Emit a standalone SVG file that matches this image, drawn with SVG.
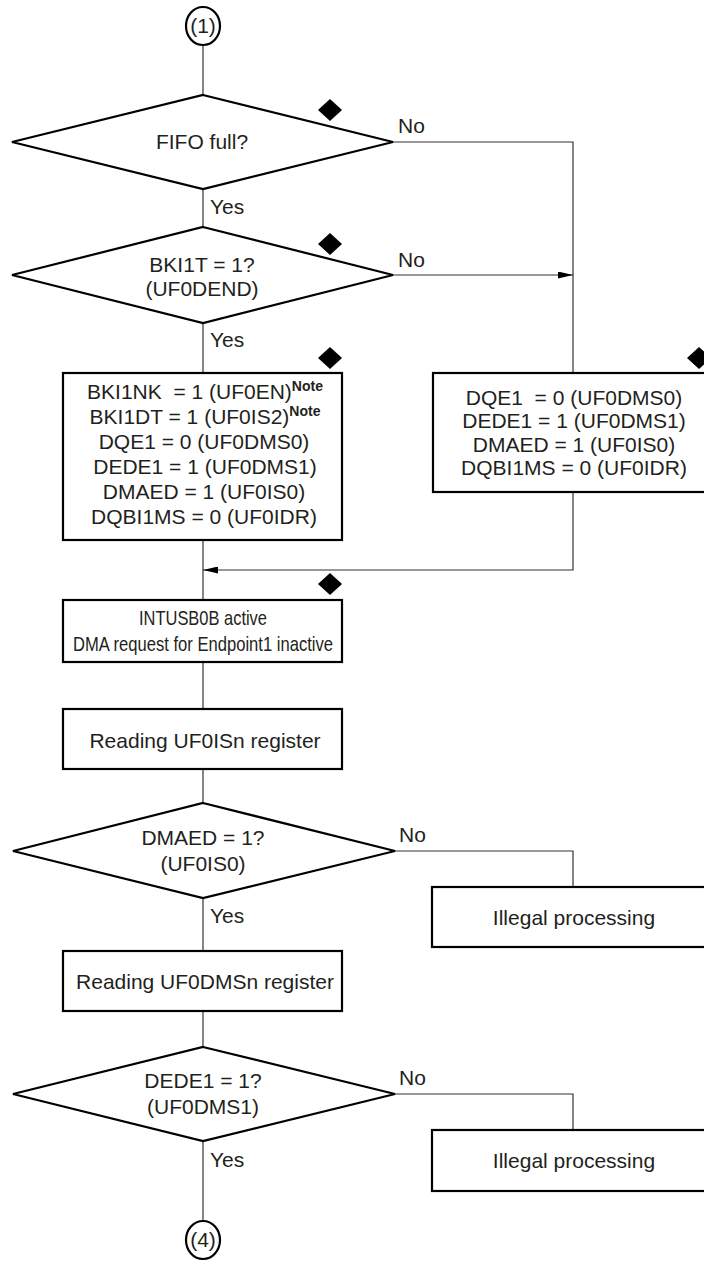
<svg xmlns="http://www.w3.org/2000/svg" width="704" height="1261" viewBox="0 0 704 1261">
<style>
text{font-family:"Liberation Sans",Arial,Helvetica,sans-serif;font-size:21px;fill:#231f20;white-space:pre}
.c{text-anchor:middle}
.sh{fill:#fff;stroke:#000;stroke-width:2.2}
.ln{fill:none;stroke:#333;stroke-width:1.2}
.mk{fill:#000}
.note{font-size:14px;font-weight:bold}
</style>
<defs>
<marker id="ah" viewBox="0 0 15 7" refX="15" refY="3.5" markerWidth="15" markerHeight="7" markerUnits="userSpaceOnUse" orient="auto">
<path d="M0,0 L15,3.5 L0,7 Z" fill="#000"/>
</marker>
</defs>
<g id="connectors">
<path class="ln" d="M203,45 V95"/>
<path class="ln" d="M203,189 V227"/>
<path class="ln" d="M393,142 H573 V373"/>
<path class="ln" d="M393,275 H573" marker-end="url(#ah)"/>
<path class="ln" d="M203,323 V373"/>
<path class="ln" d="M203,540 V600"/>
<path class="ln" d="M573,492 V570 H203" marker-end="url(#ah)"/>
<path class="ln" d="M203,662 V709"/>
<path class="ln" d="M203,769 V803"/>
<path class="ln" d="M203,898 V951"/>
<path class="ln" d="M395,851 H573 V887"/>
<path class="ln" d="M203,1011 V1047"/>
<path class="ln" d="M395,1094 H573 V1130"/>
<path class="ln" d="M203,1141 V1221"/>
<text x="210" y="214">Yes</text>
<text x="398" y="133">No</text>
<text x="398" y="267">No</text>
<text x="210" y="347">Yes</text>
<text x="399" y="842">No</text>
<text x="210" y="923">Yes</text>
<text x="399" y="1085">No</text>
<text x="210" y="1167">Yes</text>
</g>
<g id="start1">
<ellipse class="sh" cx="203" cy="26" rx="17" ry="19"/>
<text class="c" x="203" y="33">(1)</text>
</g>
<g id="fifo">
<path class="sh" d="M203,95 L393,142 L203,189 L12,142 Z"/>
<text class="c" x="202" y="149">FIFO full?</text>
<path class="mk" d="M330,99 L342,110 L330,121 L318,110 Z"/>
</g>
<g id="bki1t">
<path class="sh" d="M203,227 L393,275 L203,323 L12,275 Z"/>
<text class="c" x="202" y="272">BKI1T = 1?</text>
<text class="c" x="202" y="296">(UF0DEND)</text>
<path class="mk" d="M330,233 L342,244 L330,255 L318,244 Z"/>
</g>
<g id="setLeft">
<rect class="sh" x="63" y="373" width="279" height="167"/>
<text class="c" x="205" y="399">BKI1NK  = 1 (UF0EN)<tspan class="note" dy="-8">Note</tspan></text>
<text class="c" x="205" y="424">BKI1DT = 1 (UF0IS2)<tspan class="note" dy="-8">Note</tspan></text>
<text class="c" x="204" y="449">DQE1 = 0 (UF0DMS0)</text>
<text class="c" x="205" y="474">DEDE1 = 1 (UF0DMS1)</text>
<text class="c" x="204" y="499">DMAED = 1 (UF0IS0)</text>
<text class="c" x="204" y="524">DQBI1MS = 0 (UF0IDR)</text>
<path class="mk" d="M330,347 L342,358 L330,369 L318,358 Z"/>
</g>
<g id="setRight">
<rect class="sh" x="433" y="373" width="280" height="119"/>
<text class="c" x="574" y="405">DQE1  = 0 (UF0DMS0)</text>
<text class="c" x="574" y="428">DEDE1 = 1 (UF0DMS1)</text>
<text class="c" x="574" y="452">DMAED = 1 (UF0IS0)</text>
<text class="c" x="574" y="475">DQBI1MS = 0 (UF0IDR)</text>
<path class="mk" d="M699,347 L711,358 L699,369 L687,358 Z"/>
</g>
<g id="intusb">
<rect class="sh" x="63" y="600" width="279" height="62"/>
<text class="c" x="203" y="625" textLength="128" lengthAdjust="spacingAndGlyphs">INTUSB0B active</text>
<text class="c" x="203" y="651" textLength="260" lengthAdjust="spacingAndGlyphs">DMA request for Endpoint1 inactive</text>
<path class="mk" d="M330,573 L342,584 L330,595 L318,584 Z"/>
</g>
<g id="readIS">
<rect class="sh" x="63" y="709" width="279" height="60"/>
<text class="c" x="205" y="748">Reading UF0ISn register</text>
</g>
<g id="dmaed">
<path class="sh" d="M203,803 L395,851 L203,898 L13,851 Z"/>
<text class="c" x="203" y="845">DMAED = 1?</text>
<text class="c" x="203" y="871">(UF0IS0)</text>
</g>
<g id="illegal1">
<rect class="sh" x="432" y="887" width="280" height="60"/>
<text class="c" x="574" y="925">Illegal processing</text>
</g>
<g id="readDMS">
<rect class="sh" x="63" y="951" width="279" height="60"/>
<text class="c" x="205" y="989">Reading UF0DMSn register</text>
</g>
<g id="dede1">
<path class="sh" d="M203,1047 L395,1094 L203,1141 L13,1094 Z"/>
<text class="c" x="203" y="1088">DEDE1 = 1?</text>
<text class="c" x="203" y="1114">(UF0DMS1)</text>
</g>
<g id="illegal2">
<rect class="sh" x="432" y="1130" width="280" height="61"/>
<text class="c" x="574" y="1168">Illegal processing</text>
</g>
<g id="end4">
<ellipse class="sh" cx="203" cy="1240" rx="17" ry="19"/>
<text class="c" x="203" y="1247">(4)</text>
</g>
</svg>
